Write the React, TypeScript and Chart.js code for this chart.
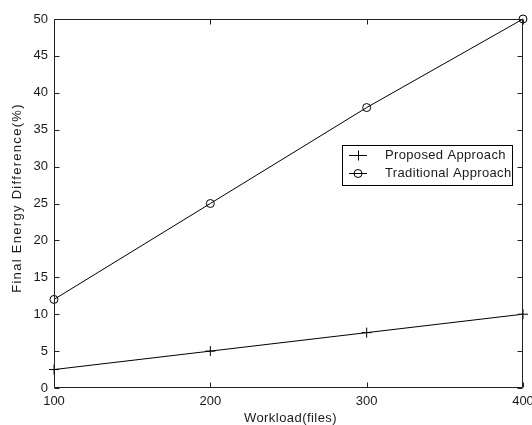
import React, { useEffect, useRef } from 'react';
import { Chart, registerables } from 'chart.js';

Chart.register(...registerables);

const workload = [100, 200, 300, 400];
const proposed = [2.5, 5, 7.5, 10];
const traditional = [12, 25, 38, 50];
const seriesNames = ['Proposed Approach', 'Traditional Approach'];
const xTitle = 'Workload(files)';
const yTitle = 'Final Energy Difference(%)';
const xRange = [100, 400];
const yRange = [0, 50];

const FONT = '"Liberation Sans", Arial, sans-serif';
const TEXT = '#1a1a1a';
const AXIS = '#222';

const framePlugin = {
  id: 'matlabFrame',
  afterDatasetsDraw(chart: any) {
    const { ctx, chartArea, scales } = chart;
    const x = scales.x;
    const y = scales.y;
    const L = Math.round(chartArea.left) + 0.5;
    const R = Math.round(chartArea.right) - 0.5;
    const T = Math.round(chartArea.top) + 0.5;
    const B = Math.round(chartArea.bottom) - 0.5;
    ctx.save();
    ctx.strokeStyle = AXIS;
    ctx.lineWidth = 1;
    ctx.beginPath();
    ctx.rect(L, T, R - L, B - T);
    ctx.stroke();
    const tl = 5;
    ctx.beginPath();
    x.ticks.forEach((t: any) => {
      const px = Math.round(x.getPixelForValue(t.value)) + 0.5;
      ctx.moveTo(px, B);
      ctx.lineTo(px, B - tl);
      ctx.moveTo(px, T);
      ctx.lineTo(px, T + tl);
    });
    y.ticks.forEach((t: any) => {
      const py = Math.round(y.getPixelForValue(t.value)) + 0.5;
      ctx.moveTo(L, py);
      ctx.lineTo(L + tl, py);
      ctx.moveTo(R, py);
      ctx.lineTo(R - tl, py);
    });
    ctx.stroke();
    ctx.restore();
  },
  afterDraw(chart: any) {
    const { ctx, chartArea } = chart;
    ctx.save();
    // axis titles
    ctx.fillStyle = TEXT;
    ctx.font = `13px ${FONT}`;
    ctx.textAlign = 'center';
    ctx.textBaseline = 'middle';
    (ctx as any).letterSpacing = '0.45px';
    ctx.fillText(xTitle, (chartArea.left + chartArea.right) / 2 + 2, 418);
    ctx.save();
    ctx.translate(17, 198);
    ctx.rotate(-Math.PI / 2);
    (ctx as any).letterSpacing = '1.3px';
    ctx.fillText(yTitle, 0, 0);
    ctx.restore();

    // legend box
    const bx = 342.5, by = 145.5, bw = 170, bh = 40;
    ctx.fillStyle = '#fff';
    ctx.fillRect(bx, by, bw, bh);
    ctx.strokeStyle = '#000';
    ctx.lineWidth = 1;
    ctx.strokeRect(bx, by, bw, bh);
    const rows = [155.5, 173.5];
    chart.data.datasets.forEach((ds: any, i: number) => {
      const yy = rows[i];
      ctx.strokeStyle = '#000';
      ctx.beginPath();
      ctx.moveTo(349, yy);
      ctx.lineTo(367, yy);
      ctx.stroke();
      ctx.beginPath();
      if (ds.pointStyle === 'cross') {
        ctx.moveTo(358.5, yy - 5);
        ctx.lineTo(358.5, yy + 5);
      } else {
        ctx.arc(358, yy, 4, 0, Math.PI * 2);
      }
      ctx.stroke();
      ctx.fillStyle = TEXT;
      ctx.font = `13px ${FONT}`;
      ctx.textBaseline = 'middle';
      ctx.textAlign = 'left';
      (ctx as any).letterSpacing = '0.35px';
      ctx.fillText(ds.label, 385, yy);
    });
    ctx.restore();
  },
};

export default function App() {
  const ref = useRef<HTMLCanvasElement | null>(null);
  useEffect(() => {
    if (!ref.current) return;
    const chart = new Chart(ref.current, {
      type: 'line',
      data: {
        datasets: [
          {
            label: seriesNames[0],
            data: workload.map((w, i) => ({ x: w, y: proposed[i] })),
            borderColor: '#000',
            borderWidth: 1,
            pointStyle: 'cross',
            pointRadius: 5,
            pointBorderColor: '#000',
            pointBorderWidth: 1,
            pointBackgroundColor: 'transparent',
            clip: false,
          } as any,
          {
            label: seriesNames[1],
            data: workload.map((w, i) => ({ x: w, y: traditional[i] })),
            borderColor: '#000',
            borderWidth: 1,
            pointStyle: 'circle',
            pointRadius: 4,
            pointBorderColor: '#000',
            pointBorderWidth: 1,
            pointBackgroundColor: 'transparent',
            clip: false,
          } as any,
        ],
      },
      options: {
        animation: false,
        responsive: false,
        devicePixelRatio: 1,
        layout: { padding: { top: 19, right: 9, left: 0, bottom: 0 } },
        plugins: { legend: { display: false }, tooltip: { enabled: false } },
        elements: { line: { tension: 0 } },
        scales: {
          x: {
            type: 'linear',
            min: xRange[0],
            max: xRange[1],
            border: { display: false },
            grid: { display: false, drawTicks: false },
            ticks: {
              stepSize: 100,
              padding: 6,
              maxRotation: 0,
              autoSkip: false,
              color: TEXT,
              font: { family: FONT, size: 13 },
            },
            title: { display: false },
            afterFit(scale: any) {
              scale.height = 37;
              scale.paddingLeft = 0;
              scale.paddingRight = 0;
            },
          },
          y: {
            type: 'linear',
            min: yRange[0],
            max: yRange[1],
            border: { display: false },
            grid: { display: false, drawTicks: false },
            ticks: {
              stepSize: 5,
              padding: 6,
              color: TEXT,
              font: { family: FONT, size: 13 },
            },
            title: { display: false },
            afterFit(scale: any) {
              scale.width = 54;
              scale.paddingTop = 0;
              scale.paddingBottom = 0;
            },
          },
        },
      },
      plugins: [framePlugin],
    });
    return () => chart.destroy();
  }, []);
  return (
    <div style={{ position: 'fixed', left: 0, top: 0, width: 532, height: 425, background: '#fff' }}>
      <canvas ref={ref} width={532} height={425} style={{ display: 'block', width: 532, height: 425 }} />
    </div>
  );
}
